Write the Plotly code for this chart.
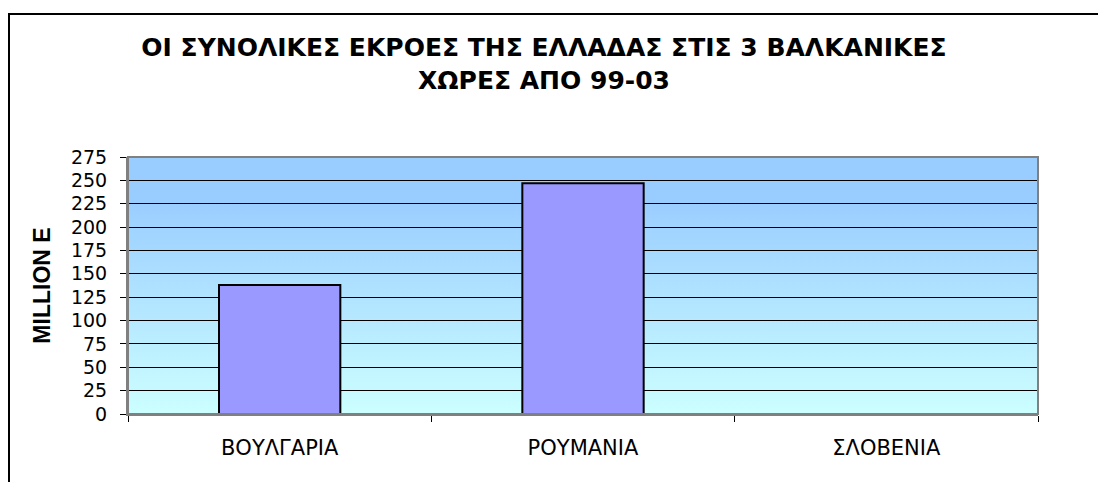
import base64

import plotly.graph_objects as go

countries = ["ΒΟΥΛΓΑΡΙΑ", "ΡΟΥΜΑΝΙΑ", "ΣΛΟΒΕΝΙΑ"]
outflows = [138, 247, 0]
y_ticks = list(range(0, 276, 25))

title_text = "ΟΙ ΣΥΝΟΛΙΚΕΣ ΕΚΡΟΕΣ ΤΗΣ ΕΛΛΑΔΑΣ ΣΤΙΣ 3 ΒΑΛΚΑΝΙΚΕΣ<br>ΧΩΡΕΣ ΑΠΟ 99-03"

ARIAL = "Liberation Sans, Arial, sans-serif"
WIDE = "DejaVu Sans, Verdana, sans-serif"

# figure is placed 8px in from the window edge by the page body margin
W, H = 1098, 474
PL, PR, PT, PB = 120, 1030, 149, 406

# excel style blue gradient for the plot area
gradient_svg = (
    '<svg xmlns="http://www.w3.org/2000/svg" width="100" height="100" '
    'viewBox="0 0 100 100" preserveAspectRatio="none">'
    '<defs><linearGradient id="g" x1="0" y1="0" x2="0" y2="1">'
    '<stop offset="0" stop-color="#99CCFF"/>'
    '<stop offset="0.15" stop-color="#99CCFF"/>'
    '<stop offset="1" stop-color="#CCFFFF"/>'
    '</linearGradient></defs>'
    '<rect width="100" height="100" fill="url(#g)"/></svg>'
)
gradient_uri = "data:image/svg+xml;base64," + base64.b64encode(gradient_svg.encode()).decode()


def px_x(x):
    return (x - PL) / (PR - PL)


def px_y(y):
    return (PB - y) / (PB - PT)


fig = go.Figure()

fig.add_trace(
    go.Bar(
        x=countries,
        y=outflows,
        marker=dict(color="#9999FF", line=dict(color="#000000", width=2)),
        hovertemplate="<b>%{x}</b><br>%{y}<extra></extra>",
    )
)

fig.update_layout(
    width=W,
    height=H,
    margin=dict(l=PL, r=W - PR, t=PT, b=H - PB),
    paper_bgcolor="#FFFFFF",
    plot_bgcolor="rgba(0,0,0,0)",
    font=dict(family=ARIAL, color="#000000", size=21),
    showlegend=False,
    bargap=0.6,
    title=dict(
        text=title_text,
        font=dict(family=WIDE, size=25, color="#000000", weight="bold"),
        x=536 / W,
        xanchor="center",
        xref="container",
        y=1 - 48 / H,
        yanchor="middle",
    ),
    xaxis=dict(
        type="category",
        range=[-0.5, 2.5],
        showgrid=False,
        showline=True,
        linecolor="#808080",
        linewidth=2,
        ticks="outside",
        tickson="boundaries",
        ticklen=6,
        tickcolor="#000000",
        tickfont=dict(family=WIDE, size=21),
        ticklabelstandoff=14,
    ),
    yaxis=dict(
        range=[0, 275],
        tickvals=y_ticks,
        showgrid=True,
        gridcolor="#000000",
        gridwidth=1,
        zeroline=False,
        showline=True,
        linecolor="#808080",
        linewidth=2,
        ticks="outside",
        ticklen=6,
        tickcolor="#000000",
        tickfont=dict(family=WIDE, size=19),
        ticklabelstandoff=9,
        title=dict(
            text="<b>MILLION E</b>",
            font=dict(size=23),
            standoff=14,
        ),
    ),
    images=[
        dict(
            source=gradient_uri,
            xref="x domain",
            yref="y domain",
            x=0,
            y=1,
            sizex=1,
            sizey=1,
            xanchor="left",
            yanchor="top",
            sizing="stretch",
            layer="below",
        )
    ],
    shapes=[
        # plot area border (grey top and right edges)
        dict(
            type="rect",
            xref="paper",
            yref="paper",
            x0=0,
            x1=1,
            y0=0,
            y1=1,
            line=dict(color="#808080", width=2),
            layer="above",
        ),
        # outer chart frame, cut off at the right and bottom
        dict(
            type="rect",
            xref="paper",
            yref="paper",
            x0=px_x(1),
            x1=px_x(1120),
            y0=px_y(500),
            y1=px_y(6),
            line=dict(color="#000000", width=2),
            layer="below",
        ),
    ],
)

fig.write_html("out.html")
